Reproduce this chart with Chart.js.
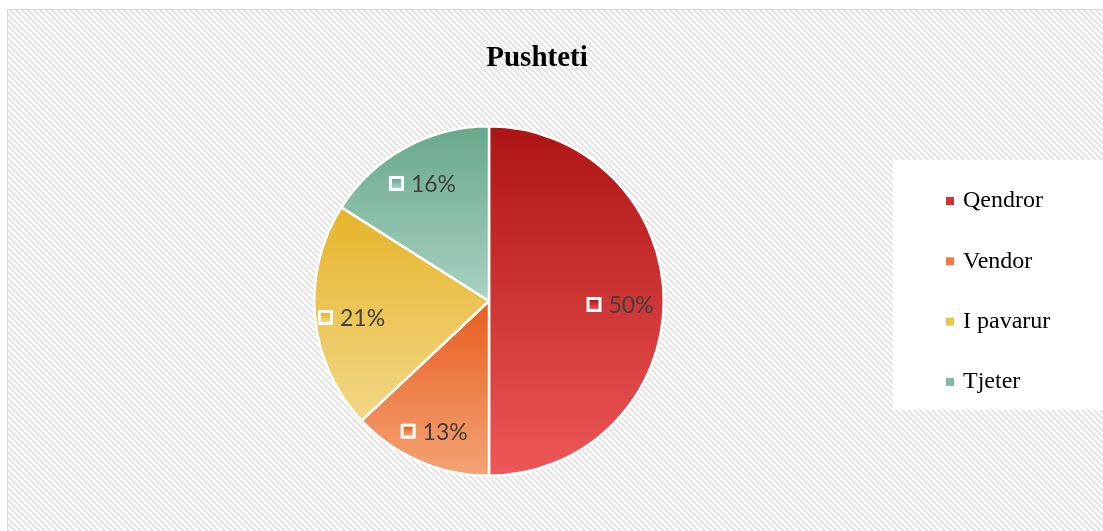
<!DOCTYPE html>
<html>
<head>
<meta charset="utf-8">
<script src="https://cdn.jsdelivr.net/npm/chart.js@4.4.0/dist/chart.umd.min.js"></script>
<style>
  html, body { margin: 0; padding: 0; background: #fff; overflow: hidden; }
  #wrap { width: 1103px; height: 531px; }
</style>
</head>
<body>
<div id="wrap"><canvas id="pie" width="1103" height="531"></canvas></div>
<script>
const title = "Pushteti";
const labels = ["Qendror", "Vendor", "I pavarur", "Tjeter"];
const values = [50, 13, 21, 16];
const topColors = ["#ad1414", "#e85c1e", "#e6b42a", "#66a88a"];
const bottomColors = ["#ef5858", "#f4a476", "#f1d786", "#a9d1c2"];
const legendColors = ["#cf3232", "#ee7a44", "#ebc44f", "#80b9a1"];

// vertical extent of a slice (center included) for its own gradient
function sliceBounds(cy, r, a0, a1) {
    let ys = [cy, cy + r * Math.sin(a0), cy + r * Math.sin(a1)];
    [-Math.PI / 2, Math.PI / 2, 3 * Math.PI / 2].forEach(t => {
        if (t > a0 && t < a1) ys.push(cy + r * Math.sin(t));
    });
    return [Math.min(...ys), Math.max(...ys)];
}

function sliceFill(ctx) {
    const chart = ctx.chart;
    const area = chart.chartArea;
    if (!area) return topColors[ctx.dataIndex];
    const cy = (area.top + area.bottom) / 2;
    const r = Math.min(area.right - area.left, area.bottom - area.top) / 2;
    const total = values.reduce((a, b) => a + b, 0);
    let a0 = -Math.PI / 2;
    for (let i = 0; i < ctx.dataIndex; i++) a0 += values[i] / total * Math.PI * 2;
    const a1 = a0 + values[ctx.dataIndex] / total * Math.PI * 2;
    const [y0, y1] = sliceBounds(cy, r, a0, a1);
    const g = chart.ctx.createLinearGradient(0, y0, 0, y1);
    g.addColorStop(0, topColors[ctx.dataIndex]);
    g.addColorStop(1, bottomColors[ctx.dataIndex]);
    return g;
}

const backdrop = {
    id: "backdrop",
    beforeDraw(chart) {
        const c = chart.ctx;
        const W = chart.width, H = chart.height;
        c.save();
        c.fillStyle = "#fff";
        c.fillRect(0, 0, W, H);
        const tile = document.createElement("canvas");
        tile.width = 6; tile.height = 6;
        const t = tile.getContext("2d");
        t.strokeStyle = "#e3e3e3";
        t.lineWidth = 2;
        t.beginPath();
        t.moveTo(-1, -1); t.lineTo(7, 7);
        t.moveTo(-4, 2); t.lineTo(4, 10);
        t.moveTo(2, -4); t.lineTo(10, 4);
        t.stroke();
        c.fillStyle = c.createPattern(tile, "repeat");
        c.fillRect(8, 10, W - 8, H - 10);
        c.strokeStyle = "#d9d9d9";
        c.lineWidth = 1;
        c.beginPath();
        c.moveTo(7.5, H); c.lineTo(7.5, 9.5); c.lineTo(W, 9.5);
        c.stroke();
        // legend panel
        c.fillStyle = "#fff";
        c.fillRect(893, 160, 210, 250);
        // title
        c.fillStyle = "#000";
        c.font = "bold 29px 'Liberation Serif', 'Times New Roman', serif";
        c.textAlign = "center";
        c.textBaseline = "alphabetic";
        c.fillText(title, 537, 66);
        c.restore();
    }
};

const sideLegend = {
    id: "sideLegend",
    afterDraw(chart) {
        const c = chart.ctx;
        c.save();
        c.font = "24px 'Liberation Serif', 'Times New Roman', serif";
        c.textBaseline = "middle";
        c.textAlign = "left";
        labels.forEach((lab, i) => {
            const y = 201 + i * 60.3;
            c.fillStyle = legendColors[i];
            c.fillRect(946, y - 4, 8, 8);
            c.fillStyle = "#000";
            c.fillText(lab, 963, y);
        });
        c.restore();
    }
};

const sliceLabels = {
    id: "sliceLabels",
    afterDatasetsDraw(chart) {
        const c = chart.ctx;
        const meta = chart.getDatasetMeta(0);
        const total = values.reduce((a, b) => a + b, 0);
        c.save();
        c.font = "23px Lato, 'Noto Sans', sans-serif";
        c.textBaseline = "middle";
        c.textAlign = "left";
        meta.data.forEach((arc, i) => {
            const p = arc.getProps(["x", "y", "startAngle", "endAngle", "outerRadius"], true);
            const mid = (p.startAngle + p.endAngle) / 2;
            const f = values[i] / total > 0.3 ? 0.75 : 0.79;
            const lx = p.x + Math.cos(mid) * p.outerRadius * f;
            const ly = p.y + Math.sin(mid) * p.outerRadius * f + 4;
            const txt = Math.round(values[i] / total * 100) + "%";
            const tw = c.measureText(txt).width;
            const groupW = 14 + 8 + tw;
            const x0 = lx - groupW / 2;
            // marker
            c.fillStyle = "#fff";
            c.fillRect(x0, ly - 8, 15, 15);
            const g = c.createLinearGradient(0, ly - 5, 0, ly + 4);
            g.addColorStop(0, topColors[i]);
            g.addColorStop(1, bottomColors[i]);
            c.fillStyle = g;
            c.fillRect(x0 + 3, ly - 5, 9, 9);
            c.fillStyle = "#404040";
            c.fillText(txt, x0 + 22, ly + 1);
        });
        c.restore();
    }
};

new Chart(document.getElementById("pie"), {
    type: "pie",
    data: {
        labels: labels,
        datasets: [{
            data: values,
            backgroundColor: sliceFill,
            borderColor: "#ffffff",
            borderWidth: 2.5,
            hoverOffset: 0
        }]
    },
    options: {
        responsive: false,
        animation: false,
        layout: { padding: { top: 125, bottom: 54, left: 313, right: 438 } },
        plugins: {
            legend: { display: false },
            title: { display: false },
            tooltip: { enabled: false }
        }
    },
    plugins: [backdrop, sliceLabels, sideLegend]
});
</script>
</body>
</html>
